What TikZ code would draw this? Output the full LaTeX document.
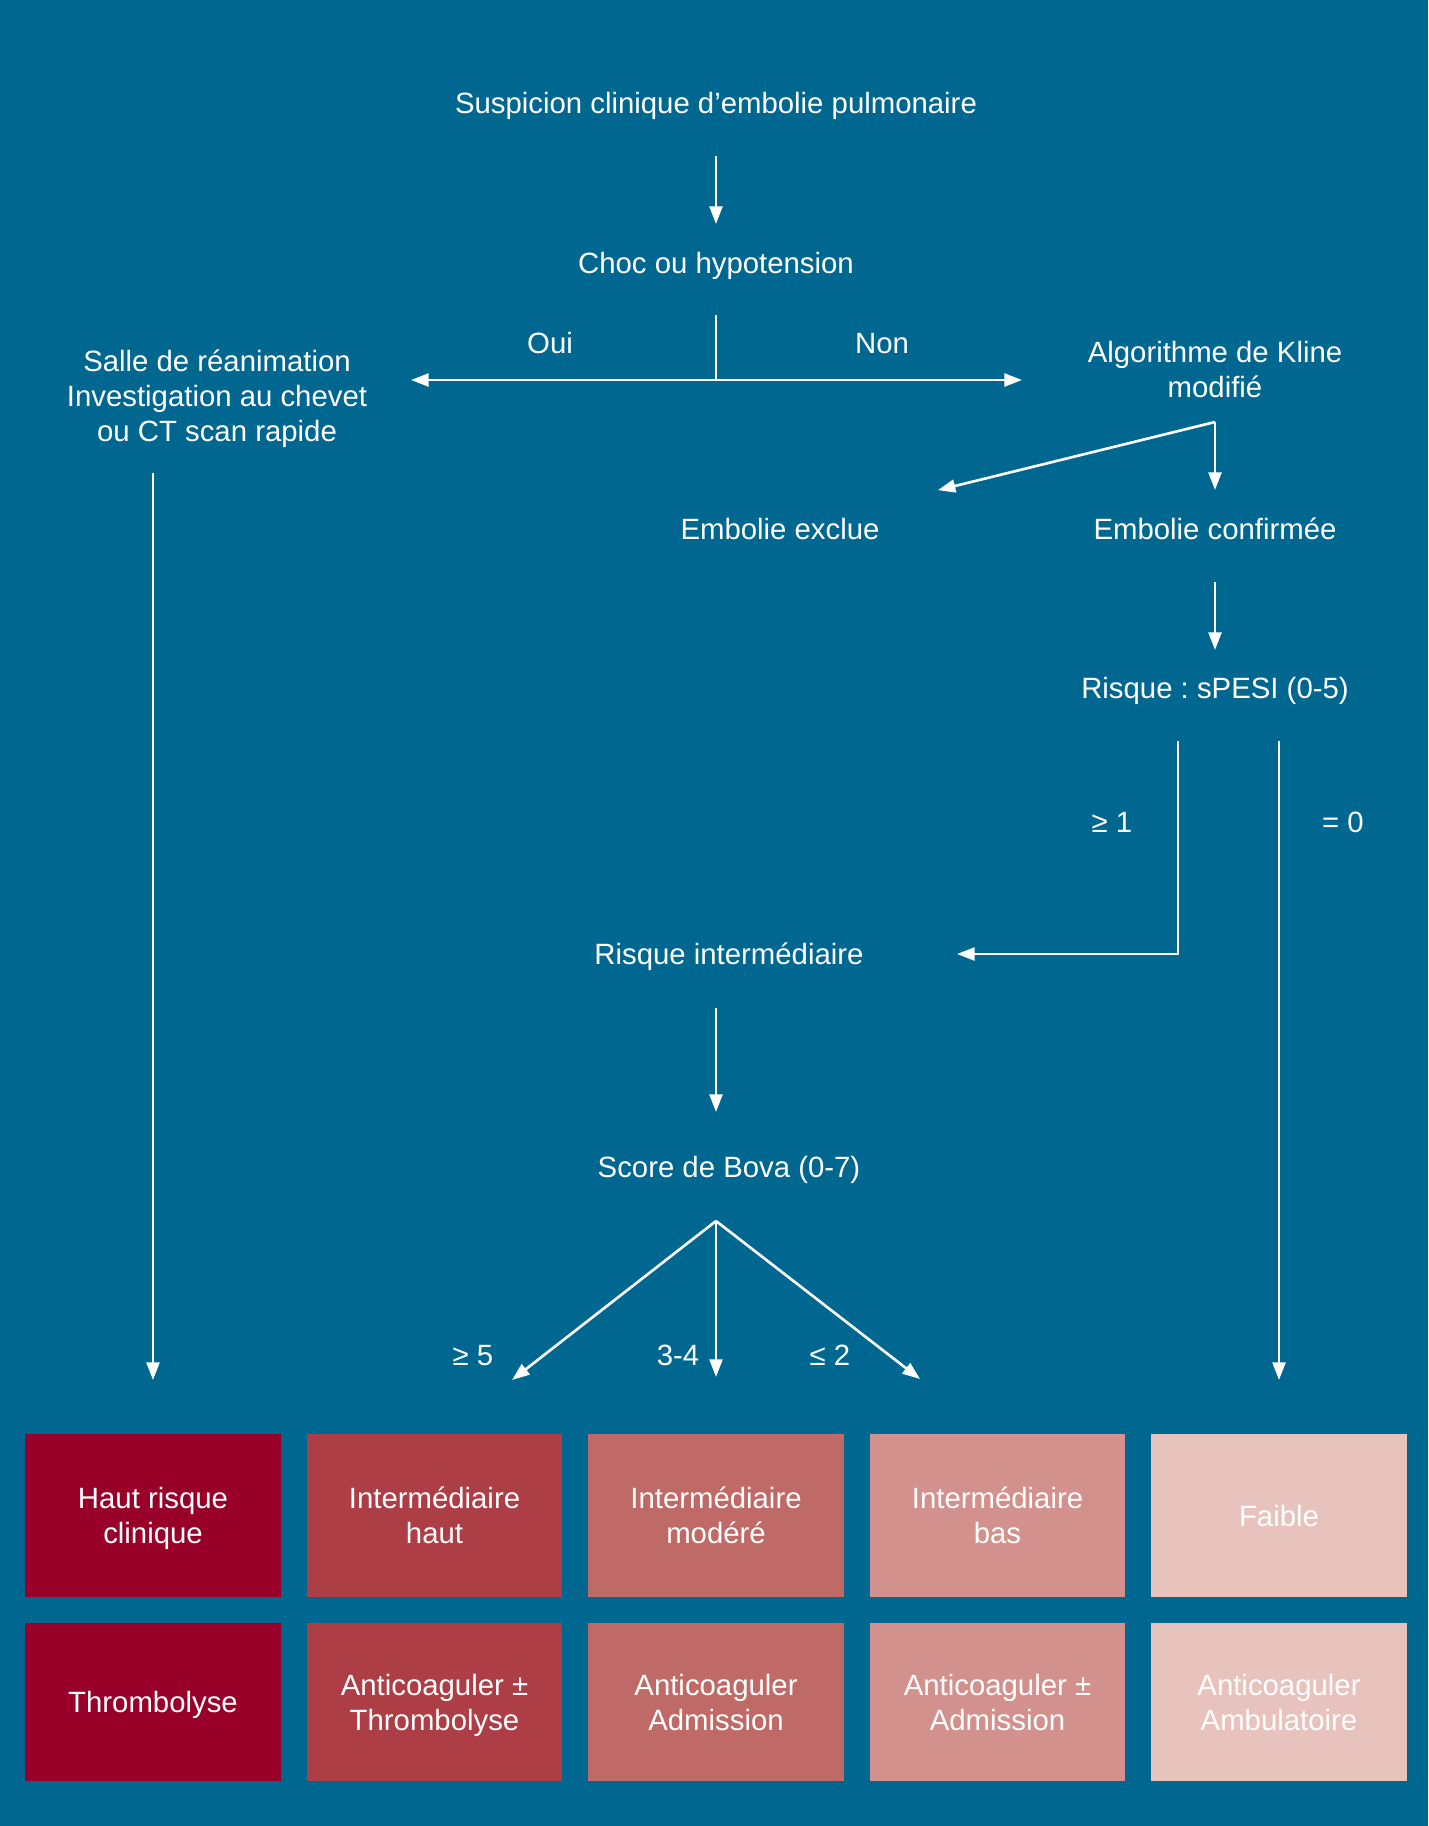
\documentclass[tikz,border=0pt]{standalone}
\usepackage{fontspec}
\setmainfont{Liberation Sans}
\usetikzlibrary{arrows.meta}
\frenchspacing
\definecolor{fond}{RGB}{0,103,145}
\definecolor{rouge1}{RGB}{153,0,41}
\definecolor{rouge2}{RGB}{173,62,70}
\definecolor{rouge3}{RGB}{192,106,103}
\definecolor{rouge4}{RGB}{211,145,141}
\definecolor{rouge5}{RGB}{232,195,189}
\tikzset{
  txt/.style={text=white,font=\fontsize{16.7}{19.9}\selectfont,inner sep=0pt,align=center,text depth=0pt},
  fl/.style={draw=white,line width=1.5pt,-{Triangle[length=10pt,width=7.3pt]}},
  trait/.style={draw=white,line width=1.5pt},
  case/.style={txt,fill=#1,minimum width=5.12cm,minimum height=3.26cm},
}
\begin{document}
\begin{tikzpicture}[x=0.02cm,y=-0.02cm]
  \fill[fond] (0,0) rectangle (1428,1826);
  % haut
  \node[txt] (susp) at (716,103) {Suspicion clinique d’embolie pulmonaire};
  \node[txt] (choc) at (716,263) {Choc ou hypotension};
  \coordinate (fork) at (716,380);
  \node[txt] (oui) at (550,343) {Oui};
  \node[txt] (non) at (882,343) {Non};
  \node[txt] (salle) at (217,396) {Salle de réanimation\\Investigation au chevet\\ou CT scan rapide};
  \node[txt] (kline) at (1215,369) {Algorithme de Kline\\modifié};
  \coordinate (kj) at (1215,422);
  \node[txt] (exclue) at (780,529) {Embolie exclue};
  \node[txt] (conf) at (1215,529) {Embolie confirmée};
  \node[txt] (spesi) at (1215,688) {Risque : sPESI (0-5)};
  \node[txt] (sup1) at (1112,822) {≥ 1};
  \node[txt] (egal0) at (1343,822) {= 0};
  \node[txt] (inter) at (729,954) {Risque intermédiaire};
  \node[txt] (bova) at (729,1167) {Score de Bova (0-7)};
  \coordinate (bf) at (716,1221);
  \node[txt] (sup5) at (473,1355) {≥ 5};
  \node[txt] (trois) at (678,1355) {3-4};
  \node[txt] (inf2) at (830,1355) {≤ 2};
  % cases
  \node[case=rouge1] (haut) at (153,1515.5) {Haut risque\\clinique};
  \node[case=rouge2] (ih) at (434.5,1515.5) {Intermédiaire\\haut};
  \node[case=rouge3] (im) at (716,1515.5) {Intermédiaire\\modéré};
  \node[case=rouge4] (ib) at (997.5,1515.5) {Intermédiaire\\bas};
  \node[case=rouge5] (faible) at (1279,1515.5) {Faible};
  \node[case=rouge1,minimum height=3.16cm] (thr) at (153,1702) {Thrombolyse};
  \node[case=rouge2,minimum height=3.16cm] (acthr) at (434.5,1702) {Anticoaguler ±\\Thrombolyse};
  \node[case=rouge3,minimum height=3.16cm] (acadm) at (716,1702) {Anticoaguler\\Admission};
  \node[case=rouge4,minimum height=3.16cm] (acpm) at (997.5,1702) {Anticoaguler ±\\Admission};
  \node[case=rouge5,minimum height=3.16cm] (acamb) at (1279,1702) {Anticoaguler\\Ambulatoire};
  % fleches
  \draw[fl,shorten <=1.06cm,shorten >=0.78cm] (susp.center) -- (choc.center);
  \draw[trait,shorten <=1.04cm] (choc.center) -- (fork);
  \draw[fl,shorten >=3.88cm] (fork) -- (fork -| salle.center);
  \draw[fl,shorten >=3.86cm] (fork) -- (fork -| kline.center);
  \draw[fl,shorten <=1.54cm,shorten >=2.71cm] (salle.center -| haut.center) -- (haut.center);
  \draw[fl,shorten >=3.25cm] (kj) -- (exclue.center);
  \draw[fl,shorten >=0.78cm] (kj) -- (conf.center);
  \draw[fl,shorten <=1.06cm,shorten >=0.76cm] (conf.center) -- (spesi.center);
  \draw[fl,shorten >=4.56cm] ([shift={(-37,53)}]spesi.center) |- (inter.center);
  \draw[fl,shorten >=2.71cm] ([shift={(64,53)}]spesi.center) -- (faible.center);
  \draw[fl,shorten <=1.08cm,shorten >=1.1cm] (inter.center -| fork) -- (bova.center -| fork);
  \draw[fl] (bf) -- ++(-204,159);
  \draw[fl] (bf) -- ++(0,156);
  \draw[fl] (bf) -- ++(204,158);
\end{tikzpicture}
\end{document}
